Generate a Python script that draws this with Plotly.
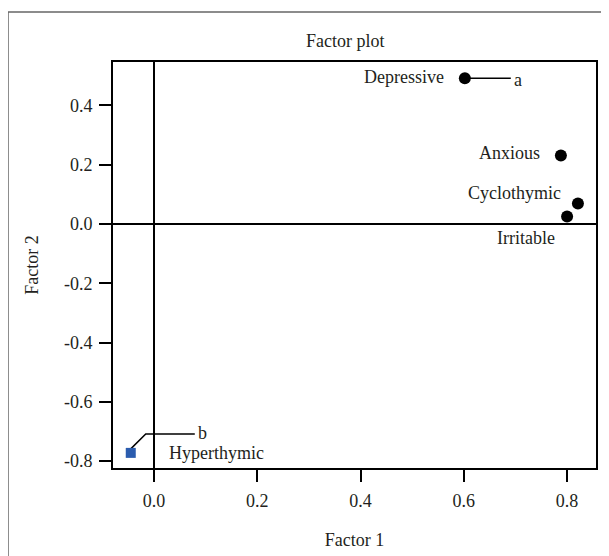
import plotly.graph_objects as go

# Data
labels = ["Depressive", "Anxious", "Cyclothymic", "Irritable"]
factor1 = [0.602, 0.788, 0.821, 0.800]
factor2 = [0.491, 0.231, 0.069, 0.025]

hyper_label = "Hyperthymic"
hyper_f1 = [-0.045]
hyper_f2 = [-0.772]

xtick_vals = [0.0, 0.2, 0.4, 0.6, 0.8]
xtick_text = ["0.0", "0.2", "0.4", "0.6", "0.8"]
ytick_vals = [-0.8, -0.6, -0.4, -0.2, 0.0, 0.2, 0.4]
ytick_text = ["-0.8", "-0.6", "-0.4", "-0.2", "0.0", "0.2", "0.4"]

FONT = "Liberation Serif"
fsz = 18
TXT = "#231f20"

fig = go.Figure()

# callout line a (from Depressive)
dx, dy = factor1[0], factor2[0]
fig.add_trace(go.Scatter(x=[dx, dx + 0.089], y=[dy, dy], mode="lines",
                         line=dict(color="black", width=1.5), showlegend=False, hoverinfo="skip"))
# callout line b (from Hyperthymic)
hx, hy = hyper_f1[0], hyper_f2[0]
fig.add_trace(go.Scatter(x=[hx, hx + 0.029, hx + 0.124],
                         y=[hy + 0.0135, hy + 0.064, hy + 0.064], mode="lines",
                         line=dict(color="black", width=1.5), showlegend=False, hoverinfo="skip"))

fig.add_trace(go.Scatter(x=factor1, y=factor2, mode="markers",
                         marker=dict(color="black", size=12, symbol="circle"),
                         showlegend=False))
fig.add_trace(go.Scatter(x=hyper_f1, y=hyper_f2, mode="markers",
                         marker=dict(color="#2b5cae", size=10, symbol="square"),
                         showlegend=False))

shifts = {"Depressive": (-19, 1), "Anxious": (-19, 2), "Cyclothymic": (-15, 10), "Irritable": (-10, -21)}
for lab, x, y in zip(labels, factor1, factor2):
    xs, ys = shifts[lab]
    fig.add_annotation(x=x, y=y, text=lab, showarrow=False, xanchor="right", yanchor="middle",
                       xshift=xs, yshift=ys, font=dict(family=FONT, size=fsz, color=TXT))
fig.add_annotation(x=hx, y=hy, text=hyper_label, showarrow=False, xanchor="left", yanchor="middle",
                   xshift=36, yshift=0, font=dict(family=FONT, size=fsz, color=TXT))
fig.add_annotation(x=dx + 0.089, y=dy, text="a", showarrow=False, xanchor="left", yanchor="middle",
                   xshift=1, yshift=-2, font=dict(family=FONT, size=fsz, color=TXT))
fig.add_annotation(x=hx + 0.124, y=hy + 0.064, text="b", showarrow=False, xanchor="left", yanchor="middle",
                   xshift=1, yshift=1, font=dict(family=FONT, size=fsz, color=TXT))

# title
fig.add_annotation(xref="paper", yref="paper", x=0.482, y=1.052, text="Factor plot", showarrow=False,
                   xanchor="center", yanchor="middle", font=dict(family=FONT, size=fsz, color=TXT))

# outer frame (top and left edges)
fig.add_shape(type="line", xref="paper", yref="paper", x0=-0.2174, x1=1.03, y0=1.1232, y1=1.1232,
              line=dict(color="#666", width=1.5))
fig.add_shape(type="line", xref="paper", yref="paper", x0=-0.2174, x1=-0.2174, y0=1.1232, y1=-0.25,
              line=dict(color="#666", width=1.5))

axis_common = dict(showgrid=False, zeroline=True, zerolinecolor="black", zerolinewidth=1.5,
                   showline=True, linecolor="black", linewidth=2, mirror=True,
                   ticks="outside", ticklen=12, tickwidth=2, tickcolor="black",
                   tickfont=dict(family=FONT, size=fsz, color=TXT))

fig.update_xaxes(range=[-0.0794, 0.856], tickvals=xtick_vals, ticktext=xtick_text,
                 ticklabelstandoff=3,
                 title=dict(text="Factor 1", font=dict(family=FONT, size=fsz, color=TXT), standoff=24),
                 **axis_common)
fig.update_yaxes(range=[-0.823, 0.546], tickvals=ytick_vals, ticktext=ytick_text,
                 ticklabelstandoff=3,
                 title=dict(text="Factor 2", font=dict(family=FONT, size=fsz, color=TXT), standoff=21),
                 **axis_common)

fig.update_layout(width=601, height=548, margin=dict(l=105, r=13, t=54, b=88, autoexpand=False),
                  plot_bgcolor="white", paper_bgcolor="white", showlegend=False)

fig.write_html("out.html")
